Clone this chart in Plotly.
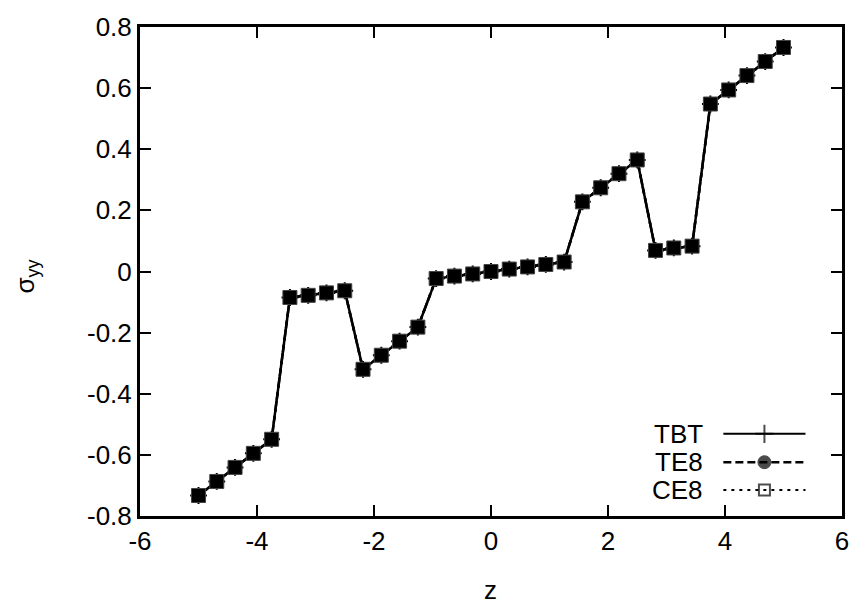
import plotly.graph_objects as go

# Through-thickness coordinate and normal stress sigma_yy
z = [-5.0, -4.6875, -4.375, -4.0625, -3.75, -3.4375, -3.125, -2.8125, -2.5,
     -2.1875, -1.875, -1.5625, -1.25, -0.9375, -0.625, -0.3125, 0.0,
     0.3125, 0.625, 0.9375, 1.25, 1.5625, 1.875, 2.1875, 2.5,
     2.8125, 3.125, 3.4375, 3.75, 4.0625, 4.375, 4.6875, 5.0]

sigma_tbt = [-0.733, -0.687, -0.641, -0.595, -0.549, -0.085, -0.078, -0.070, -0.063,
             -0.320, -0.274, -0.228, -0.182, -0.023, -0.015, -0.008, 0.0,
             0.008, 0.015, 0.023, 0.031, 0.228, 0.274, 0.320, 0.365,
             0.069, 0.077, 0.083, 0.548, 0.594, 0.641, 0.687, 0.733]
sigma_te8 = list(sigma_tbt)
sigma_ce8 = list(sigma_tbt)

series_names = ["TBT", "TE8", "CE8"]

x_ticks = [-6, -4, -2, 0, 2, 4, 6]
x_ticktext = ["-6", "-4", "-2", "0", "2", "4", "6"]
y_ticks = [-0.8, -0.6, -0.4, -0.2, 0, 0.2, 0.4, 0.6, 0.8]
y_ticktext = ["-0.8", "-0.6", "-0.4", "-0.2", "0", "0.2", "0.4", "0.6", "0.8"]

FONT = "Liberation Sans, Arial, Helvetica, sans-serif"
FS = 26
W, H = 861, 608
L, R, T, B = 140, 15, 15, 92

fig = go.Figure()

# data curves (all three solutions coincide)
fig.add_trace(go.Scatter(
    x=z, y=sigma_tbt, mode="lines+markers", showlegend=False,
    line=dict(color="black", width=2.5, dash="solid"),
    marker=dict(symbol="cross-thin", size=12, line=dict(color="black", width=2))))
fig.add_trace(go.Scatter(
    x=z, y=sigma_te8, mode="lines+markers", showlegend=False,
    line=dict(color="black", width=2.5, dash="8px,4px"),
    marker=dict(symbol="circle", size=12, color="black")))
fig.add_trace(go.Scatter(
    x=z, y=sigma_ce8, mode="lines+markers", showlegend=False,
    line=dict(color="black", width=2.5, dash="3px,5px"),
    marker=dict(symbol="square", size=14, color="black",
                line=dict(color="#444444", width=1))))

# key: label on the left, line sample with centred symbol on the right
key_rows = [0.168, 0.110, 0.053]
key_x = [0.831, 0.8895, 0.948]
key_styles = [
    (dict(width=2, dash="solid"), dict(symbol="cross-thin", size=[0, 13, 0], color="black",
                                        line=dict(color="black", width=2))),
    (dict(width=2.5, dash="8px,4px"), dict(symbol="circle", size=[0, 13, 0], color="black",
                                            line=dict(color="black", width=1))),
    (dict(width=2, dash="3px,5px"), dict(symbol="square-open", size=[0, 11, 0], color="black",
                                          line=dict(color="black", width=2))),
]
for name, yk, (ln, mk) in zip(series_names, key_rows, key_styles):
    fig.add_trace(go.Scatter(
        x=key_x, y=[yk] * 3, xaxis="x2", yaxis="y2", mode="lines+markers",
        showlegend=False, hoverinfo="skip",
        line=dict(color="black", **ln), marker=mk))
    fig.add_annotation(x=0.8045, y=yk, xref="paper", yref="paper", text=name,
                       showarrow=False, xanchor="right", yanchor="middle",
                       font=dict(family=FONT, size=FS, color="black"))

axis_common = dict(showline=True, linecolor="black", linewidth=3, mirror="allticks",
                   ticks="inside", ticklen=11, tickwidth=2, tickcolor="black",
                   showgrid=False, zeroline=False,
                   tickfont=dict(family=FONT, size=FS, color="black"))

fig.update_layout(
    width=W, height=H,
    margin=dict(l=L, r=R, t=T, b=B),
    paper_bgcolor="white", plot_bgcolor="white",
    xaxis=dict(range=[-6, 6], tickvals=x_ticks, ticktext=x_ticktext, **axis_common),
    yaxis=dict(range=[-0.8, 0.8], tickvals=y_ticks, ticktext=y_ticktext, **axis_common),
    xaxis2=dict(range=[0, 1], overlaying="x", visible=False, fixedrange=True),
    yaxis2=dict(range=[0, 1], overlaying="y", visible=False, fixedrange=True),
)

# axis titles
fig.add_annotation(x=(492 - L) / (W - L - R), y=(H - B - 592) / (H - T - B),
                   xref="paper", yref="paper", text="z", showarrow=False,
                   xanchor="center", yanchor="middle",
                   font=dict(family=FONT, size=FS, color="black"))
fig.add_annotation(x=(26 - L) / (W - L - R), y=(H - B - 270) / (H - T - B),
                   xref="paper", yref="paper", text="σ<sub>yy</sub>", showarrow=False,
                   textangle=-90, xanchor="center", yanchor="middle",
                   font=dict(family=FONT, size=FS, color="black"))

fig.write_html("out.html")
